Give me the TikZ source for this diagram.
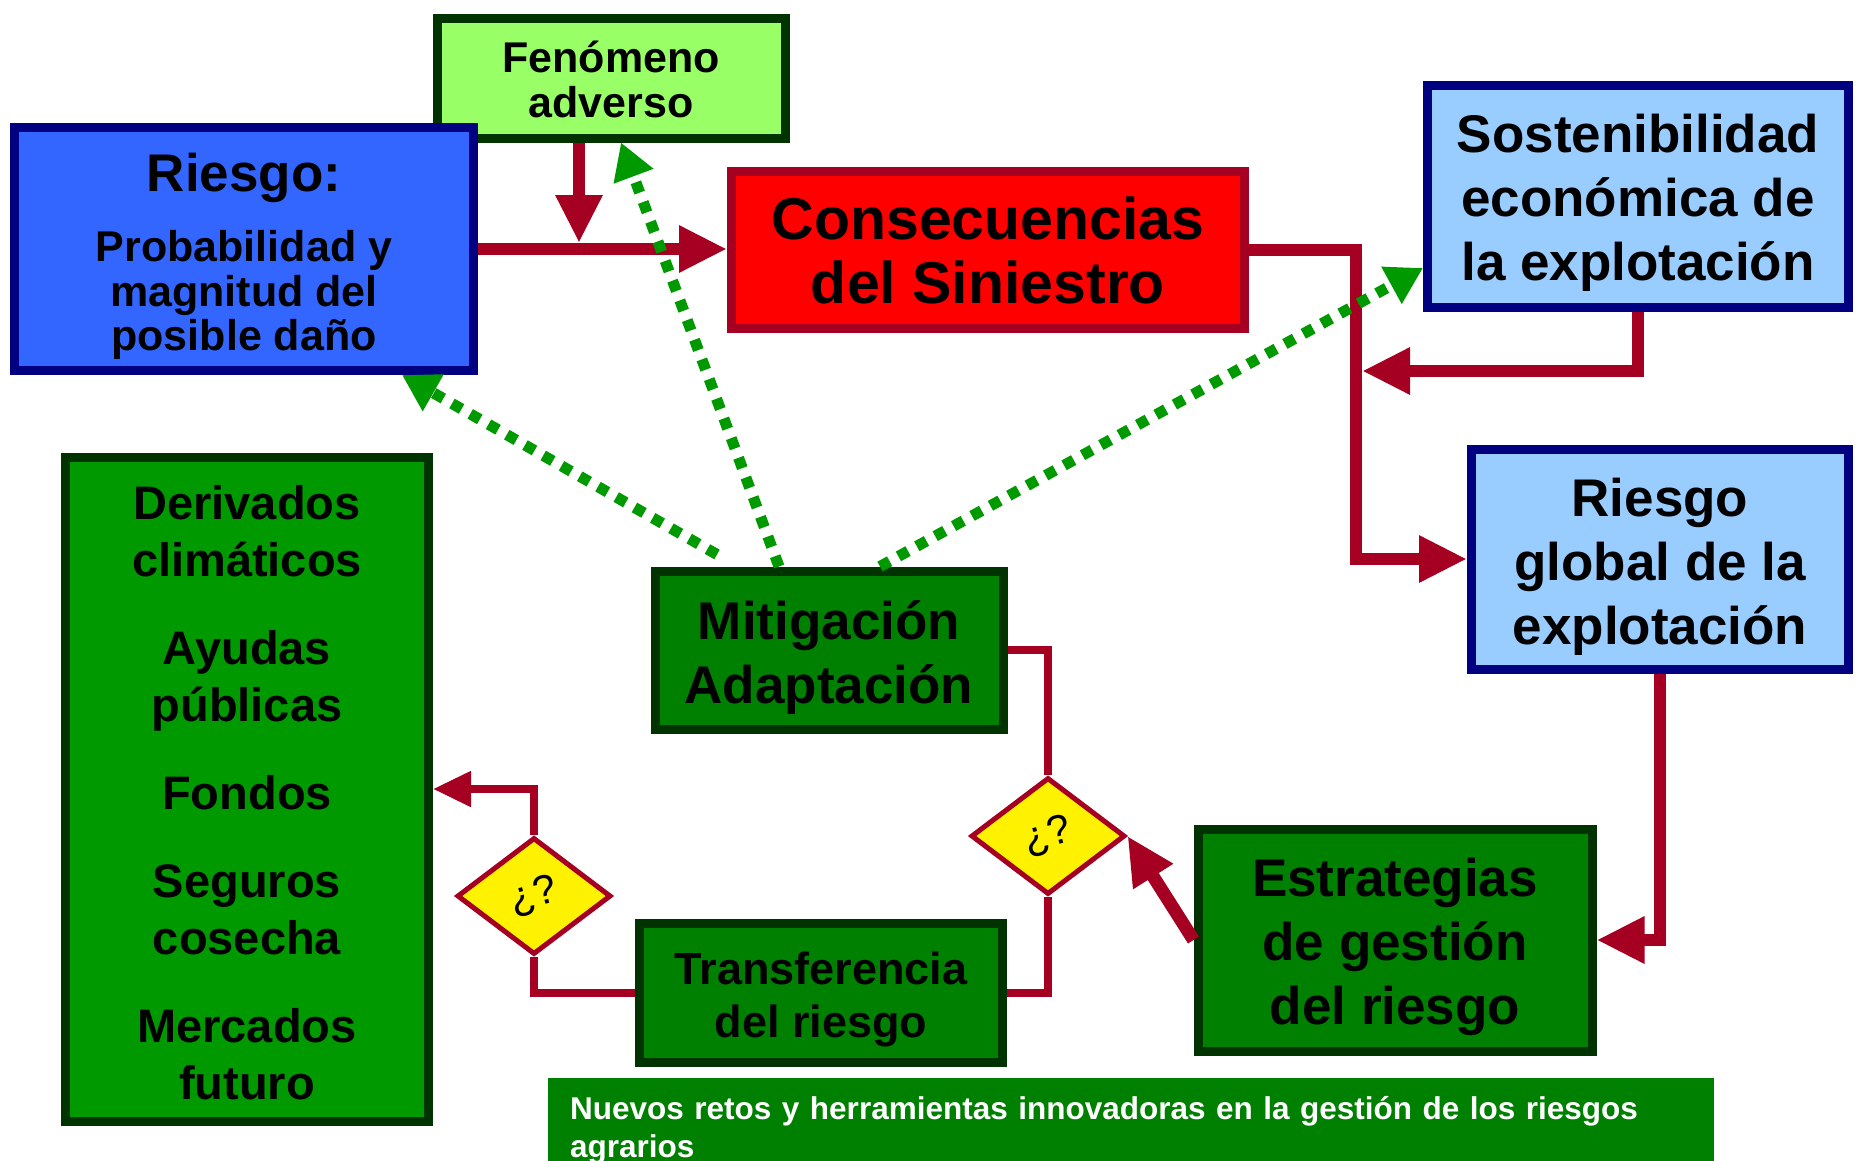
\documentclass[tikz,border=0pt]{standalone}
\usepackage{fontspec}
\usepackage{graphicx}
\setmainfont{Liberation Sans}
\usetikzlibrary{arrows.meta,shapes.geometric}

\definecolor{wine}{HTML}{A50021}
\definecolor{navyline}{HTML}{000080}
\definecolor{royal}{HTML}{3366FF}
\definecolor{skyfill}{HTML}{99CCFF}
\definecolor{lime}{HTML}{99FF66}
\definecolor{darkline}{HTML}{003300}
\definecolor{leaf}{HTML}{009900}
\definecolor{forest}{HTML}{008000}

% extra room above the first line of a box
\newcommand{\topgap}[1]{\rule{0pt}{#1}}

\begin{document}
\begin{tikzpicture}[x=1pt, y=-1pt,
    box/.style={rectangle, line width=9pt, align=center, inner sep=0pt, font=\bfseries},
    bluebox/.style={box, draw=navyline, fill=skyfill},
    greenbox/.style={box, draw=darkline, fill=forest},
    question/.style={diamond, draw=wine, fill=yellow, line width=5pt, inner sep=0pt,
        minimum width=154pt, minimum height=117pt, font=\fontsize{41}{41}\selectfont},
    flow/.style={draw=wine, line width=12pt, -{Triangle[length=48pt,width=44pt]}},
    thinflow/.style={draw=wine, line width=8pt, -{Triangle[length=38pt,width=34pt]}},
    link/.style={draw=wine, line width=8pt},
    hint/.style={draw=leaf, line width=11pt, dash pattern=on 11pt off 10pt,
        -{Triangle[length=36pt,width=40pt]}}
]
\useasboundingbox (0,0) rectangle (1865,1160);

\node[box, draw=darkline, fill=lime, minimum width=348pt, minimum height=120pt,
    font=\bfseries\fontsize{43}{45}\selectfont] (fen) at (611,78) {\topgap{35pt}Fenómeno\\ adverso};
\node[box, draw=navyline, fill=royal, minimum width=459pt, minimum height=243pt,
    font=\bfseries\fontsize{43}{44.6}\selectfont] (riesgo) at (244,249)
    {{\fontsize{53}{53}\selectfont\topgap{53pt}Riesgo:}\\[26pt] Probabilidad y\\ magnitud del\\ posible daño};
\node[box, draw=wine, fill=red, minimum width=513pt, minimum height=157pt,
    font=\bfseries\fontsize{59}{64}\selectfont] (cons) at (988,250) {Consecuencias\\ del Siniestro};
\node[bluebox, minimum width=421pt, minimum height=222pt,
    font=\bfseries\fontsize{53}{64}\selectfont] (sost) at (1638,196)
    {\topgap{52pt}Sostenibilidad\\ económica de\\ la explotación};
\node[bluebox, minimum width=377pt, minimum height=220pt,
    font=\bfseries\fontsize{53}{64}\selectfont] (global) at (1660,559)
    {\topgap{53pt}Riesgo\\ global de la\\ explotación};

\node[box, draw=darkline, fill=leaf, minimum width=363pt, minimum height=664pt,
    font=\bfseries\fontsize{47}{57}\selectfont] (tools) at (247,789)
    {\topgap{42pt}Derivados\\ climáticos\\[31pt] Ayudas\\ públicas\\[31pt] Fondos\\[31pt]
     Seguros\\ cosecha\\[31pt] Mercados\\ futuro};
\node[greenbox, minimum width=348pt, minimum height=158pt,
    font=\bfseries\fontsize{53}{64}\selectfont] (mitig) at (829,650) {\topgap{53pt}Mitigación\\ Adaptación};
\node[greenbox, minimum width=363pt, minimum height=139pt,
    font=\bfseries\fontsize{45}{53.5}\selectfont] (transf) at (821,993) {\topgap{45pt}Transferencia\\ del riesgo};
\node[greenbox, minimum width=394pt, minimum height=222pt,
    font=\bfseries\fontsize{53}{63.6}\selectfont] (estr) at (1395,940)
    {\topgap{52pt}Estrategias\\ de gestión\\ del riesgo};

\node[question] (d1) at (534,896) {\rotatebox{15}{¿?}};
\node[question] (d2) at (1048,836) {\rotatebox{15}{¿?}};

\node[fill=forest, text=white, anchor=north west, minimum width=1166pt, minimum height=90pt,
    text width=1122pt, inner xsep=22pt, inner ysep=18pt, align=left,
    font=\bfseries\fontsize{31.5}{38}\selectfont] (banner) at (548,1078)
    {Nuevos retos y herramientas innovadoras en la gestión de los riesgos\\ agrarios};

\coordinate (j1) at (579,243);
\coordinate (bend) at (1356,371);

% red flows
\draw[flow] (riesgo.east) -- (riesgo.east -| cons.west);
\draw[flow] (fen.south -| j1) -- (j1);
\draw[flow] (cons.east) -- (cons.east -| bend) |- (global.west);
\draw[flow] (sost.south) |- ([xshift=6pt]bend);
\draw[flow] (global.south) |- (estr.east);
\draw[flow, line width=13pt] (estr.west) -- (d2.east);

\draw[link] (mitig.east) -| (d2.north);
\draw[link] (d2.south) |- (transf.east);
\draw[link] (transf.west) -| (d1.south);
\draw[thinflow] (d1.north) |- (tools.east);

% dotted hints
\draw[hint] ([xshift=-112pt,yshift=12pt]mitig.north) -- ([xshift=158pt]riesgo.south);
\draw[hint] ([xshift=-50pt]mitig.north) -- ([xshift=10pt]fen.south);
\draw[hint] ([xshift=51pt]mitig.north) -- ([yshift=-72pt]sost.west);

\end{tikzpicture}
\end{document}
